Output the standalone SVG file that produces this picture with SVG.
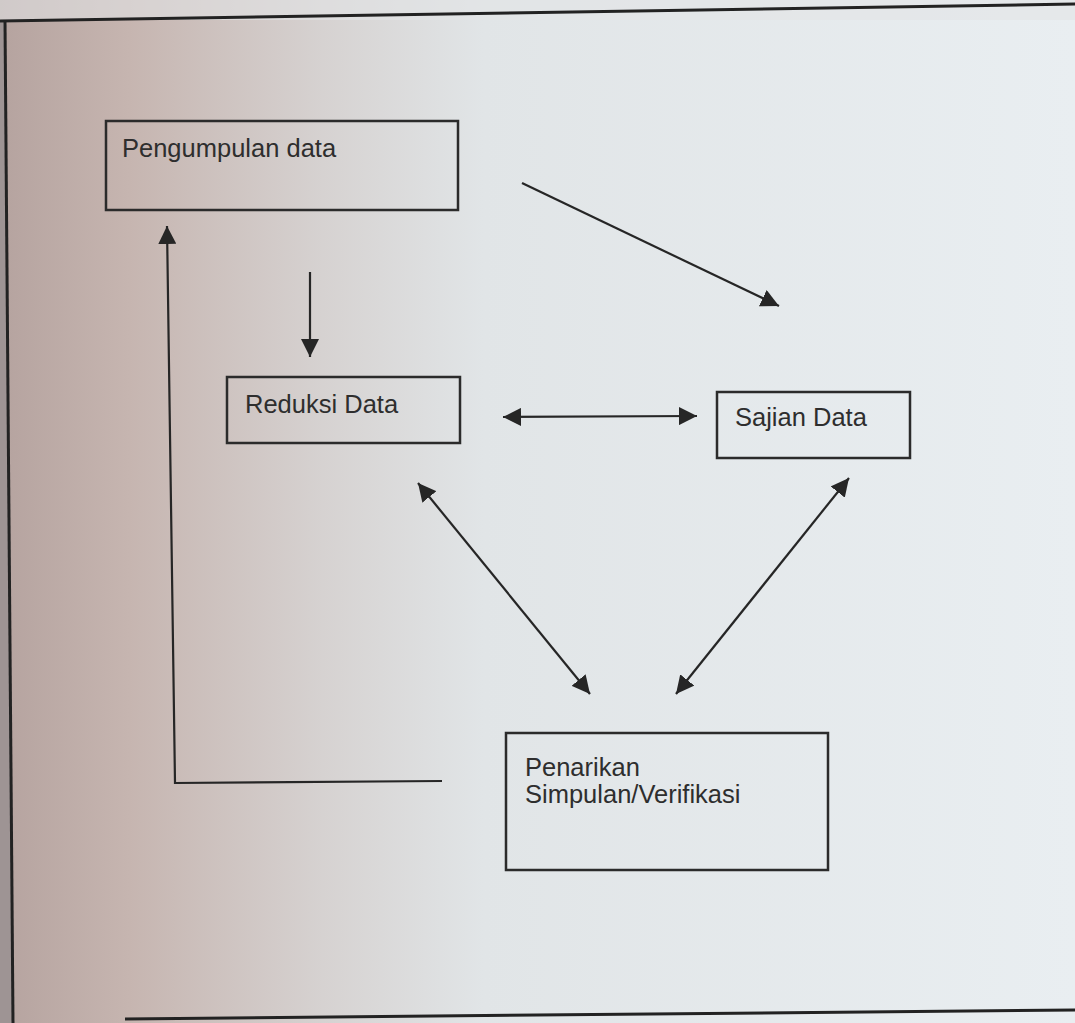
<svg xmlns="http://www.w3.org/2000/svg" width="1075" height="1023" viewBox="0 0 1075 1023">
  <defs>
    <linearGradient id="bg" x1="0" y1="0" x2="1" y2="0">
      <stop offset="0" stop-color="#b5a39f"/>
      <stop offset="0.12" stop-color="#c6b5b0"/>
      <stop offset="0.3" stop-color="#d6d2d1"/>
      <stop offset="0.45" stop-color="#e1e5e7"/>
      <stop offset="1" stop-color="#e9eef1"/>
    </linearGradient>
    <marker id="ah" viewBox="0 0 10 10" refX="10" refY="5" markerWidth="9" markerHeight="9" markerUnits="userSpaceOnUse" orient="auto-start-reverse">
      <path d="M0,0 L10,5 L0,10 z" fill="#262626"/>
    </marker>
    <marker id="ahb" viewBox="0 0 10 10" refX="10" refY="5" markerWidth="18" markerHeight="18" markerUnits="userSpaceOnUse" orient="auto-start-reverse">
      <path d="M0,0 L10,5 L0,10 z" fill="#262626"/>
    </marker>
  </defs>
  <style>
    .box { fill: none; stroke: #2b2b2b; stroke-width: 2.5; }
    .lbl { font-family: "Liberation Sans", Arial, sans-serif; font-size: 25.5px; fill: #2e2e2e; }
    .con { fill: none; stroke: #262626; stroke-width: 2.2; }
    .frame { fill: none; stroke: #222; stroke-width: 3; }
  </style>
  <rect x="0" y="0" width="1075" height="1023" fill="url(#bg)"/>
  <rect x="0" y="0" width="1075" height="20" fill="#e2e4e6" opacity="0.6"/>
  <polygon points="0,20 5,20 13,1023 0,1023" fill="#9e9494"/>
  <g id="frame">
    <line class="frame" x1="0" y1="21" x2="1075" y2="4"/>
    <line class="frame" x1="5" y1="20" x2="13" y2="1023"/>
    <line class="frame" x1="125" y1="1019" x2="1075" y2="1010"/>
  </g>
  <g id="connectors">
    <polyline class="con" points="442,781 175,783 167,226" marker-end="url(#ahb)"/>
    <line class="con" x1="310" y1="272" x2="310" y2="357" marker-end="url(#ahb)"/>
    <line class="con" x1="522" y1="183" x2="779" y2="306" marker-end="url(#ahb)"/>
    <line class="con" x1="503" y1="417" x2="697" y2="416" marker-start="url(#ahb)" marker-end="url(#ahb)"/>
    <line class="con" x1="418" y1="483" x2="590" y2="694" marker-start="url(#ahb)" marker-end="url(#ahb)"/>
    <line class="con" x1="849" y1="478" x2="676" y2="694" marker-start="url(#ahb)" marker-end="url(#ahb)"/>
  </g>
  <g id="pengumpulan">
    <rect class="box" x="106" y="121" width="352" height="89"/>
    <text class="lbl" x="122" y="157">Pengumpulan data</text>
  </g>
  <g id="reduksi">
    <rect class="box" x="227" y="377" width="233" height="66"/>
    <text class="lbl" x="245" y="413">Reduksi Data</text>
  </g>
  <g id="sajian">
    <rect class="box" x="717" y="392" width="193" height="66"/>
    <text class="lbl" x="735" y="426">Sajian Data</text>
  </g>
  <g id="penarikan">
    <rect class="box" x="506" y="733" width="322" height="137"/>
    <text class="lbl" x="525" y="776">Penarikan</text>
    <text class="lbl" x="525" y="803">Simpulan/Verifikasi</text>
  </g>
</svg>
